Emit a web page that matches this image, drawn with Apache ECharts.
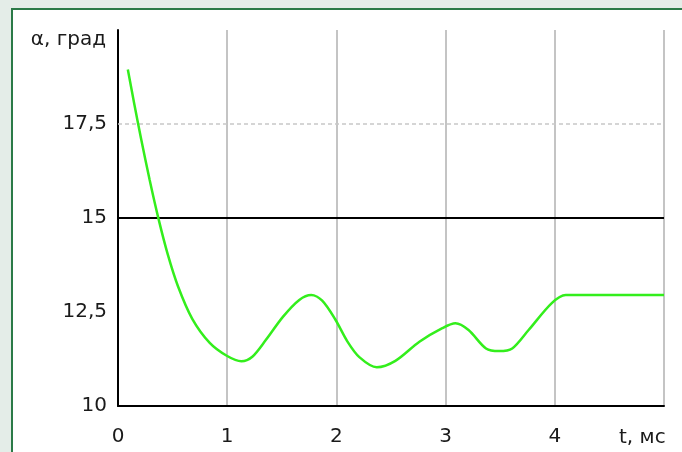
<!DOCTYPE html>
<html>
<head>
<meta charset="utf-8">
<script src="https://cdn.jsdelivr.net/npm/echarts@6/dist/echarts.min.js"></script>
<style>
html,body{margin:0;padding:0;background:#e4ede8;width:682px;height:452px;overflow:hidden;}
#frame{position:absolute;left:11px;top:8px;width:669px;height:442px;border-left:2px solid #2b7a47;border-top:2px solid #2b7a47;background:#fff;}
#chart{width:669px;height:442px;}
</style>
</head>
<body>
<div id="frame"><div id="chart"></div></div>
<script>
// time, ms
const tValues = [0.09, 0.15, 0.21, 0.29, 0.37, 0.455, 0.55, 0.68, 0.84, 1.0, 1.13, 1.23, 1.355, 1.51, 1.66, 1.77, 1.87, 1.99, 2.1, 2.21, 2.37, 2.54, 2.76, 2.97, 3.09, 3.21, 3.37, 3.49, 3.61, 3.76, 3.97, 4.1, 4.5, 5.0];
// angle alpha, degrees
const alphaValues = [18.95, 18.02, 17.13, 16.01, 14.99, 14.04, 13.18, 12.32, 11.68, 11.33, 11.19, 11.31, 11.76, 12.37, 12.82, 12.95, 12.8, 12.3, 11.72, 11.3, 11.03, 11.2, 11.71, 12.07, 12.2, 12.02, 11.53, 11.46, 11.53, 12.02, 12.73, 12.95, 12.95, 12.95];
const xTickLabels = ['0', '1', '2', '3', '4'];
const yTickLabels = ['10', '12,5', '15', '17,5'];
const yTickValues = [10, 12.5, 15, 17.5];
const blackLineValue = 15;
const dashedLineValue = 17.5;
const yAxisTitle = 'α, град';
const xAxisTitle = 't, мс';

const points = tValues.map((t, i) => [t, alphaValues[i]]);
const font = 'DejaVu Sans';
const textColor = '#1a1a1a';

const chart = echarts.init(document.getElementById('chart'), null, {renderer: 'canvas'});
chart.setOption({
  animation: false,
  backgroundColor: 'transparent',
  grid: {left: 105, top: 20, right: 18, bottom: 46, containLabel: false},
  xAxis: {
    type: 'value', min: 0, max: 5, interval: 1,
    axisLine: {show: true, lineStyle: {color: '#000', width: 2}},
    axisTick: {show: false},
    splitLine: {show: true, lineStyle: {color: '#c4c4c4', width: 2}},
    axisLabel: {
      margin: 21, color: textColor, fontFamily: font, fontSize: 20,
      formatter: v => { const i = Math.round(v); return i < xTickLabels.length ? xTickLabels[i] : ''; }
    },
    name: xAxisTitle, nameLocation: 'end', nameGap: -45,
    nameTextStyle: {color: textColor, fontFamily: font, fontSize: 20, align: 'left', verticalAlign: 'top', padding: [22, 0, 0, 0]}
  },
  yAxis: {
    type: 'value', min: 10, max: 20, interval: 2.5,
    axisLine: {show: true, lineStyle: {color: '#000', width: 2}},
    axisTick: {show: false},
    splitLine: {show: false},
    axisLabel: {
      margin: 11, color: textColor, fontFamily: font, fontSize: 20,
      formatter: v => { const i = yTickValues.indexOf(v); return i >= 0 ? yTickLabels[i] : ''; }
    },
    name: yAxisTitle, nameLocation: 'end', nameGap: -10,
    nameTextStyle: {color: textColor, fontFamily: font, fontSize: 20, align: 'right', verticalAlign: 'middle', padding: [0, 12, 0, 0]}
  },
  series: [{
    type: 'line',
    data: points,
    smooth: 0.3,
    showSymbol: false,
    lineStyle: {color: '#33ee1c', width: 2.5},
    z: 5,
    markLine: {
      silent: true, symbol: 'none', label: {show: false}, z: 1,
      data: [
        {yAxis: blackLineValue, lineStyle: {color: '#000', width: 2, type: 'solid'}},
        {yAxis: dashedLineValue, lineStyle: {color: '#c8c8c8', width: 1.5, type: [4, 3]}}
      ]
    }
  }]
});
</script>
</body>
</html>
